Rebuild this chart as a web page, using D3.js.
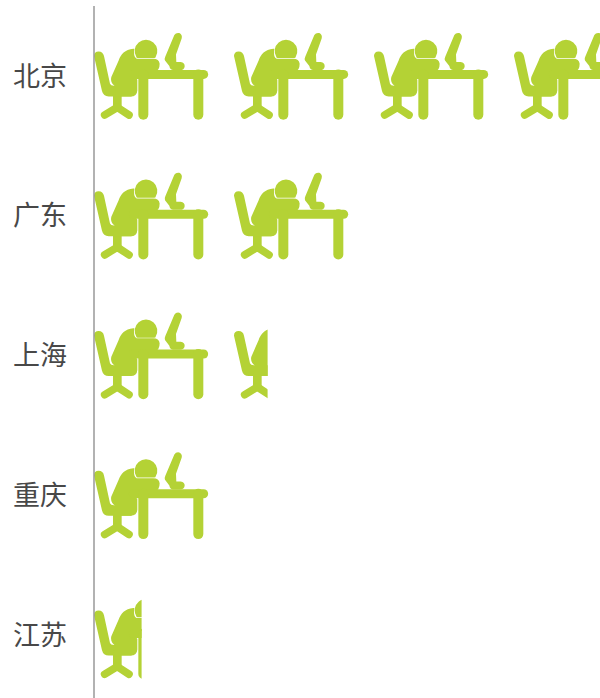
<!DOCTYPE html>
<html><head><meta charset="utf-8">
<script src="https://cdn.jsdelivr.net/npm/d3@7"></script>
<style>html,body{margin:0;padding:0;background:#fff;overflow:hidden}</style>
</head><body><svg id="c" width="600" height="698"></svg>
<script>
const categories = ["北京","广东","上海","重庆","江苏"];
const values = [4.4, 2, 1.24, 1, 0.34];
const W = 600, H = 698, color = "#b4d235";
const x = d3.scaleLinear().domain([0,1]).range([94,234]);
const y = d3.scaleBand().domain(categories).range([6,705]);
const svg = d3.select("#c");
const defs = svg.append("defs");

const icon = defs.append("g").attr("id","icon").attr("transform","scale(0.3333)");
const thick = (d,w)=>icon.append("path").attr("d",d).attr("fill","none").attr("stroke",color)
  .attr("stroke-width",w).attr("stroke-linecap","round").attr("stroke-linejoin","round");
const solid = d=>icon.append("path").attr("fill",color).attr("d",d);
solid("M12 95Q12 81 26 81Q39 81 42 95L60 178Q62 184 72 184H125V216H56Q40 216 36 200Z");
thick("M82 210V245",26);
thick("M44 272L82 249L117 272",23);
solid("M130 73C105 75 92 90 86 108L64 158C61 170 66 180 78 188V216H122Q141 216 142 198V166L126 142H195Q209 138 209 118Q207 103 190 103H140Q129 98 133 73Z");
solid("M139 98A34 34 0 1 1 197 98Q197 101 193 101H143Q139 101 139 98Z");
thick("M130 150H341",27);
thick("M160 150V271",30);
thick("M325 150V271",30);
solid("M253 32Q258 24 268 26Q278 31 275 42L258 90L259 113H272Q285 115 284 126Q283 137 270 137H250Q240 137 238 125L225 108Q223 102 226 96Z");

const rows = svg.selectAll("g.row").data(categories).join("g").attr("class","row");
rows.each(function(cat,i){
  const id = "clip"+i;
  const cy = y(cat)+y.bandwidth()/2;
  defs.append("clipPath").attr("id",id).append("rect")
    .attr("x",x(0)).attr("y",cy-60).attr("width",x(values[i])-x(0)).attr("height",120);
  const n = Math.ceil(values[i]);
  d3.select(this).append("g").attr("clip-path",`url(#${id})`)
    .selectAll("use").data(d3.range(n)).join("use")
    .attr("href","#icon")
    .attr("transform",d=>`translate(${x(d)-4},${cy-51.5})`);
});

const axis = d3.axisLeft(y).tickSize(0).tickPadding(27);
const g = svg.append("g").attr("transform",`translate(${x(0)},0)`).call(axis);
g.select(".domain").attr("stroke","#999").attr("stroke-width",1.5).attr("d",`M0 6V${H}`);
g.selectAll("text").attr("font-family","'Noto Sans CJK SC'").attr("font-size",27).attr("font-weight",400)
  .attr("fill","#484848").attr("dy","0.36em");
</script></body></html>
